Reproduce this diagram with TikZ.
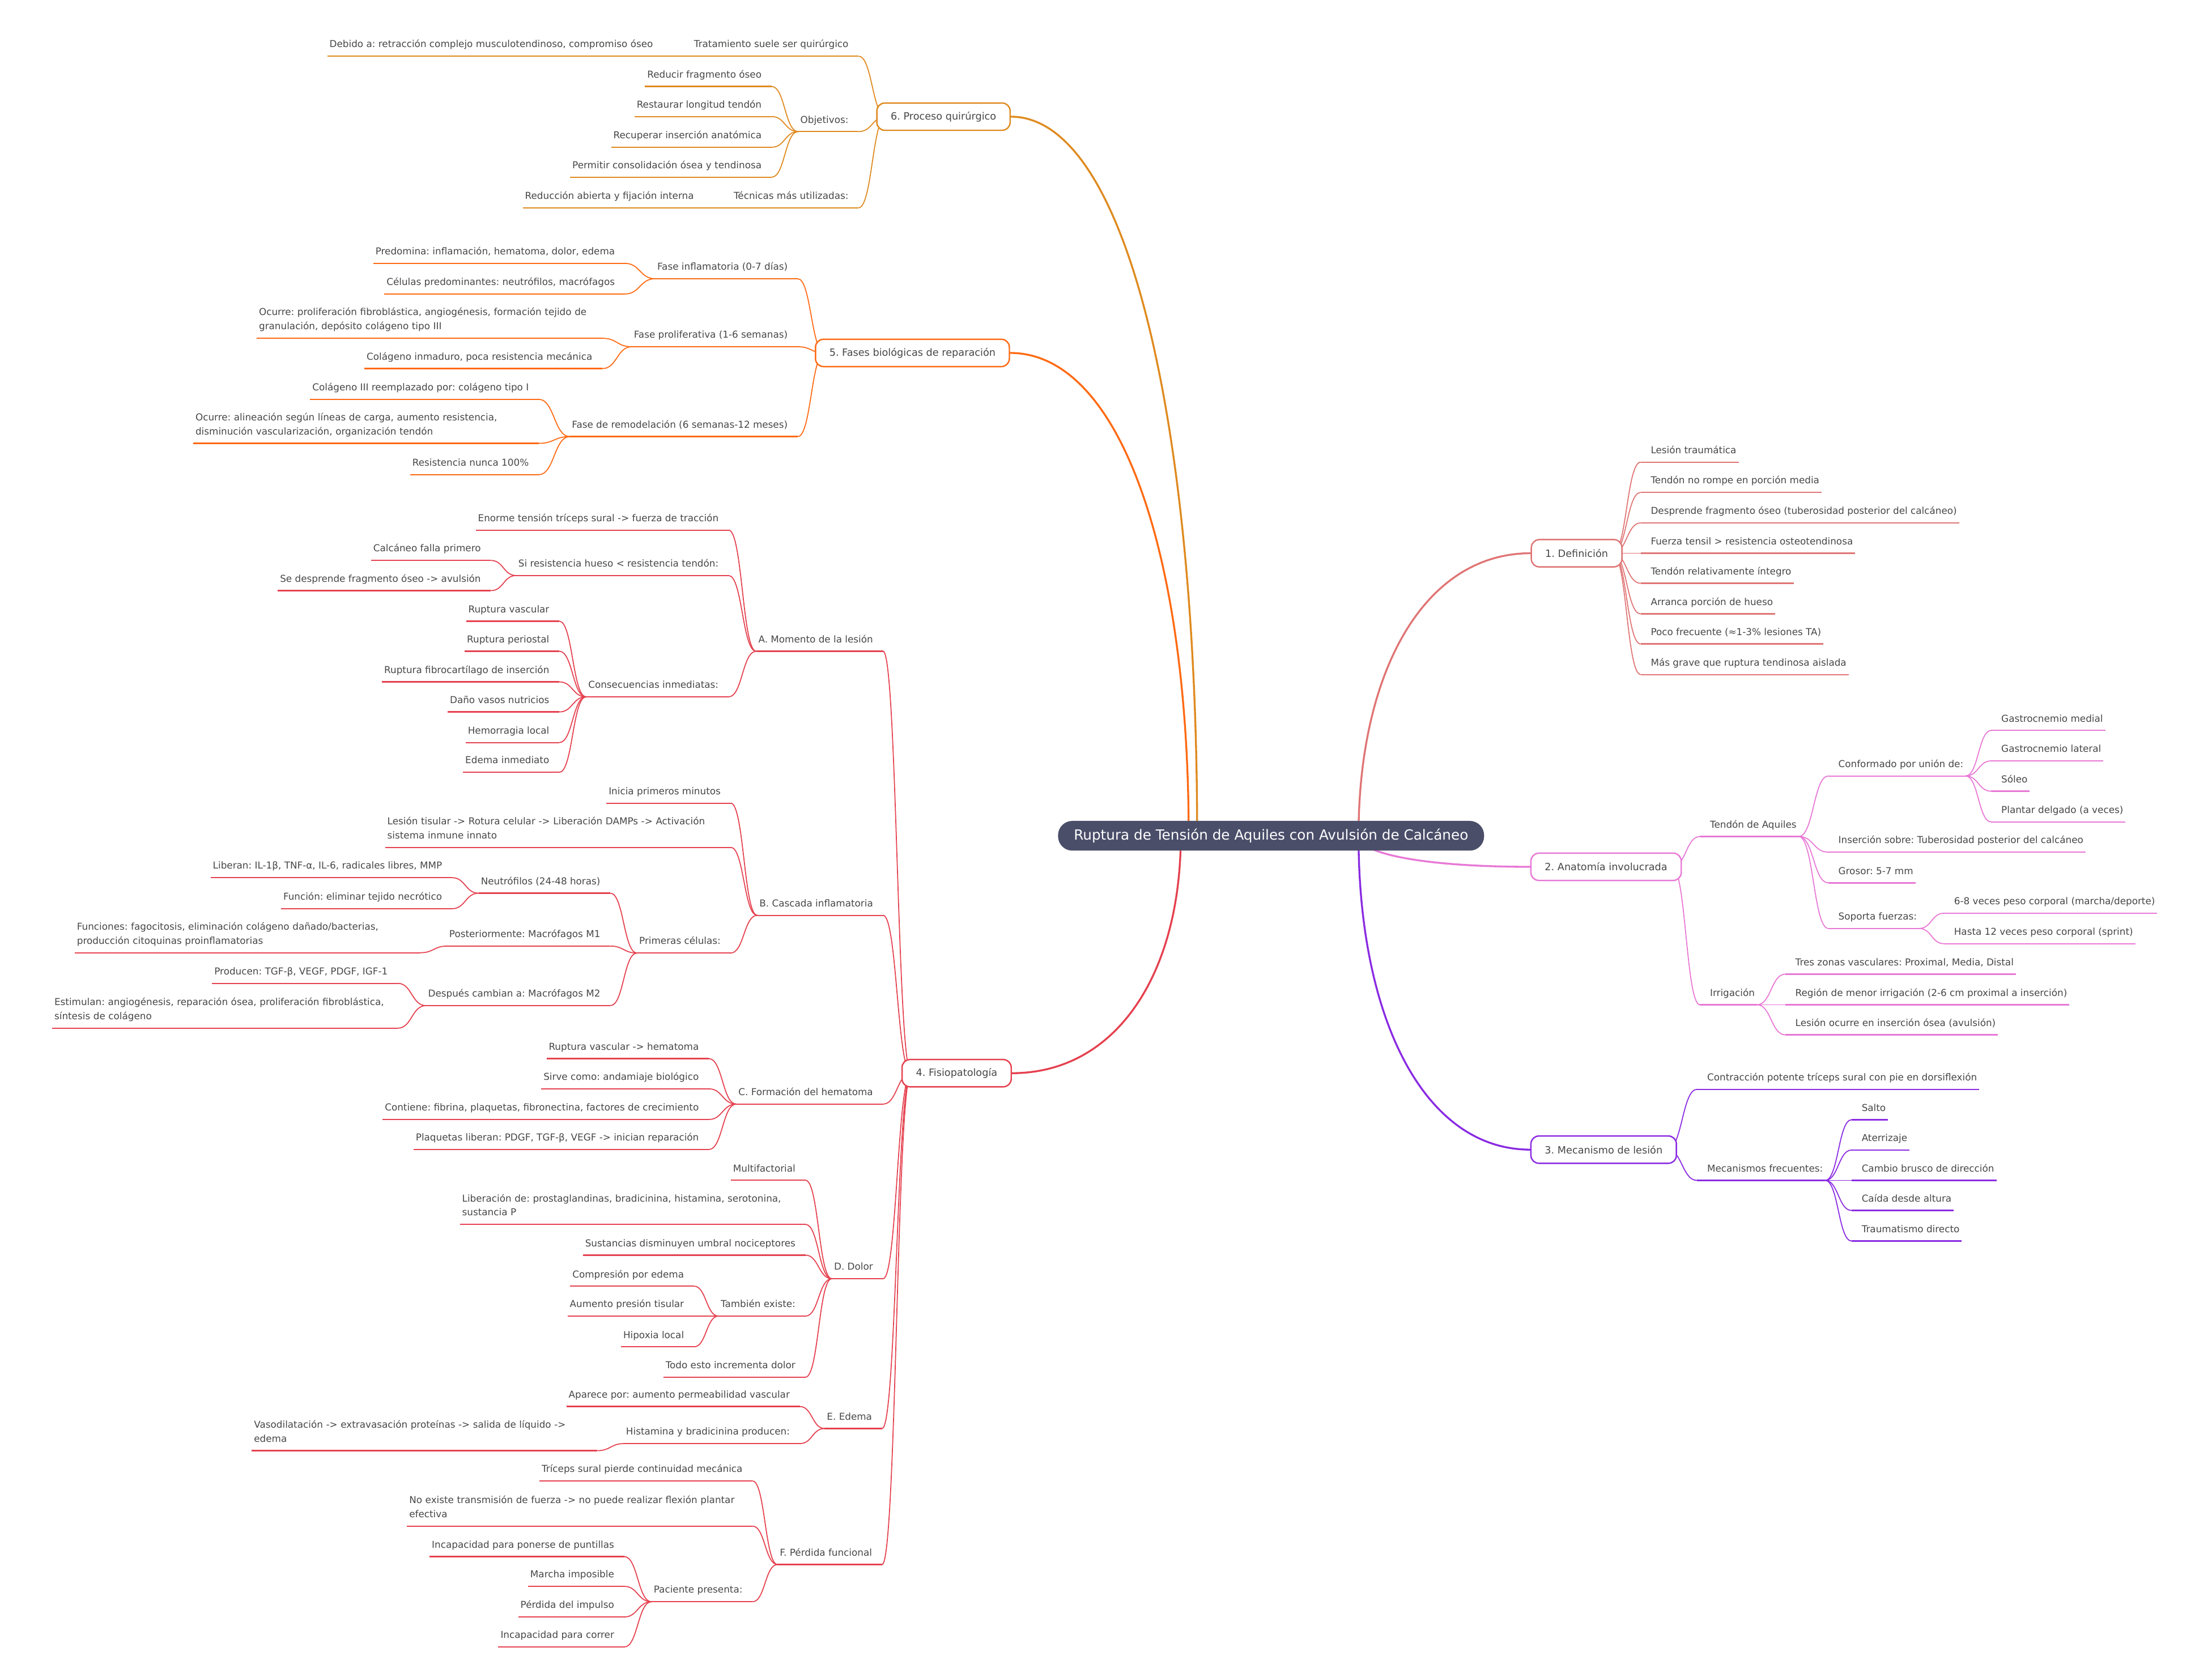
\documentclass[tikz,border=0pt]{standalone}
\usepackage{fontspec}
\setmainfont{DejaVu Sans}
\usetikzlibrary{calc,backgrounds}
\frenchspacing

\definecolor{c1}{HTML}{E07575}
\definecolor{c2}{HTML}{E878D6}
\definecolor{c3}{HTML}{8A2BE2}
\definecolor{c4}{HTML}{E5414F}
\definecolor{c5}{HTML}{FF6A13}
\definecolor{c6}{HTML}{DF8A1F}
\definecolor{rootc}{HTML}{4A4E69}
\definecolor{txt}{HTML}{474747}

\newcommand\leaffont{\fontsize{9.6}{14.2}\selectfont}
\newcommand\boxfont{\fontsize{10.1}{12}\selectfont}
\newcommand\rootfont{\fontsize{14.1}{17}\selectfont}

% S-shaped link between two anchors
\newcommand\slink[2]{\draw[slinkline] let \p1=(#1), \p2=(#2) in
  (\p1) .. controls ({(\x1+\x2)/2},\y1) and ({(\x1+\x2)/2},\y2) .. (\p2);}
% main branch out of the root
\newcommand\trunk[2]{\draw[trunkline] let \p1=(#1), \p2=(#2) in
  (\p1) .. controls (\x1,{\y1+0.58*(\y2-\y1)}) and ({\x2+0.62*(\x1-\x2)},\y2) .. (\p2);}

\begin{document}
\begin{tikzpicture}[
    x=0.05cm, y=-0.05cm,
    rootbox/.style={fill=rootc, text=white, font=\rootfont, rounded corners=14.5pt, inner xsep=16pt, minimum height=30pt},
    branchbox/.style={draw=br, fill=white, line width=1.4pt, rounded corners=8pt, font=\boxfont, text=txt, inner xsep=14pt, inner ysep=0pt, minimum height=27.5pt},
    uline/.style={draw=br, line width=1.3pt},
    leafbase/.style={font=\leaffont, text=txt, align=left, inner xsep=2.1pt, inner ysep=6pt,
        append after command={(\tikzlastnode.south west) edge[uline] (\tikzlastnode.south east)}},
    rnode/.style={leafbase, anchor=south west,
        execute at begin node={\hspace*{7.9pt}},
        execute at end node={\rule[-2.5pt]{0pt}{0pt}}},
    lnode/.style={leafbase, anchor=south east,
        execute at end node={\hspace*{7.9pt}\rule[-2.5pt]{0pt}{0pt}}},
    lwide/.style={leafbase, anchor=south east, text width=344pt,
        execute at end node={\rule[-2.5pt]{0pt}{0pt}}},
    slinkline/.style={draw=br, line width=1pt},
    trunkline/.style={draw=br, line width=1.9pt, line cap=round}
]

\begin{scope}[on background layer]
\fill[white] (0,0) rectangle (1568,1186);
\end{scope}
\useasboundingbox (0,0) rectangle (1568,1186);

% Root
\node[rootbox] (root) at (901,592.5) {Ruptura de Tensión de Aquiles con Avulsión de Calcáneo};
\coordinate (s6) at ($(root.center)+(-52.4,0)$);
\coordinate (s5) at ($(root.center)+(-58.4,0)$);
\coordinate (s4) at ($(root.center)+(-64,0)$);
\coordinate (sR) at ($(root.center)+(62,0)$);

% 1. Definicion
\begin{scope}
\colorlet{br}{c1}
\node[branchbox, anchor=west] (def) at (1085,392.2) {1. Definición};
\coordinate (defj) at ($(def.east)+(-7,0)$);
\node[rnode] (def1) at (1163,327.6) {Lesión traumática};
\node[rnode] (def2) at (1163,349.1) {Tendón no rompe en porción media};
\node[rnode] (def3) at (1163,370.7) {Desprende fragmento óseo (tuberosidad posterior del calcáneo)};
\node[rnode] (def4) at (1163,392.2) {Fuerza tensil > resistencia osteotendinosa};
\node[rnode] (def5) at (1163,413.5) {Tendón relativamente íntegro};
\node[rnode] (def6) at (1163,435.2) {Arranca porción de hueso};
\node[rnode] (def7) at (1163,456.5) {Poco frecuente (≈1-3\% lesiones TA)};
\node[rnode] (def8) at (1163,478.2) {Más grave que ruptura tendinosa aislada};
\begin{scope}[on background layer]
\trunk{sR}{def.west}
\foreach \i in {1,...,8} {\slink{defj}{def\i.south west}}
\end{scope}
\end{scope}

% 2. Anatomia
\begin{scope}
\colorlet{br}{c2}
\node[branchbox, anchor=west] (anat) at (1084.7,614.5) {2. Anatomía involucrada};
\coordinate (anatj) at ($(anat.east)+(-7,0)$);
\node[rnode] (tend) at (1205,593) {Tendón de Aquiles};
\node[rnode] (conf) at (1296,550.1) {Conformado por unión de:};
\node[rnode] (gmed) at (1411.5,517.8) {Gastrocnemio medial};
\node[rnode] (glat) at (1411.5,539.4) {Gastrocnemio lateral};
\node[rnode] (sol) at (1411.5,560.9) {Sóleo};
\node[rnode] (plan) at (1411.5,582.7) {Plantar delgado (a veces)};
\node[rnode] (ins) at (1296,604.1) {Inserción sobre: Tuberosidad posterior del calcáneo};
\node[rnode] (gros) at (1296,625.9) {Grosor: 5-7 mm};
\node[rnode] (sop) at (1296,658.2) {Soporta fuerzas:};
\node[rnode] (sop1) at (1378,647.4) {6-8 veces peso corporal (marcha/deporte)};
\node[rnode] (sop2) at (1378,669) {Hasta 12 veces peso corporal (sprint)};
\node[rnode] (irr) at (1205,712.3) {Irrigación};
\node[rnode] (irr1) at (1265.5,690.6) {Tres zonas vasculares: Proximal, Media, Distal};
\node[rnode] (irr2) at (1265.5,712.3) {Región de menor irrigación (2-6 cm proximal a inserción)};
\node[rnode] (irr3) at (1265.5,733.6) {Lesión ocurre en inserción ósea (avulsión)};
\begin{scope}[on background layer]
\trunk{sR}{anat.west}
\slink{anatj}{tend.south west}
\slink{anatj}{irr.south west}
\foreach \nm in {conf,ins,gros,sop} {\slink{tend.south east}{\nm.south west}}
\foreach \nm in {gmed,glat,sol,plan} {\slink{conf.south east}{\nm.south west}}
\slink{sop.south east}{sop1.south west}
\slink{sop.south east}{sop2.south west}
\foreach \i in {1,2,3} {\slink{irr.south east}{irr\i.south west}}
\end{scope}
\end{scope}

% 3. Mecanismo
\begin{scope}
\colorlet{br}{c3}
\node[branchbox, anchor=west] (mec) at (1084.7,815) {3. Mecanismo de lesión};
\coordinate (mecj) at ($(mec.east)+(-7,0)$);
\node[rnode] (contr) at (1203,772.2) {Contracción potente tríceps sural con pie en dorsiflexión};
\node[rnode] (mfrec) at (1203,836.8) {Mecanismos frecuentes:};
\node[rnode] (mf1) at (1312.5,793.8) {Salto};
\node[rnode] (mf2) at (1312.5,815.3) {Aterrizaje};
\node[rnode] (mf3) at (1312.5,836.8) {Cambio brusco de dirección};
\node[rnode] (mf4) at (1312.5,858.1) {Caída desde altura};
\node[rnode] (mf5) at (1312.5,879.8) {Traumatismo directo};
\begin{scope}[on background layer]
\trunk{sR}{mec.west}
\slink{mecj}{contr.south west}
\slink{mecj}{mfrec.south west}
\foreach \i in {1,...,5} {\slink{mfrec.south east}{mf\i.south west}}
\end{scope}
\end{scope}

% 4. Fisiopatologia
\begin{scope}
\colorlet{br}{c4}
\node[branchbox, anchor=east] (fisio) at (717.3,760.8) {4. Fisiopatología};
\coordinate (fisioj) at ($(fisio.west)+(7,0)$);
% A
\node[lnode] (mom) at (626,461.7) {A. Momento de la lesión};
\node[lnode] (mom1) at (516.5,375.8) {Enorme tensión tríceps sural -> fuerza de tracción};
\node[lnode] (mom2) at (516.5,408) {Si resistencia hueso < resistencia tendón:};
\node[lnode] (res1) at (348,397.3) {Calcáneo falla primero};
\node[lnode] (res2) at (348,418.7) {Se desprende fragmento óseo -> avulsión};
\node[lnode] (mom3) at (516.5,494) {Consecuencias inmediatas:};
\node[lnode] (con1) at (396.5,440.4) {Ruptura vascular};
\node[lnode] (con2) at (396.5,461.7) {Ruptura periostal};
\node[lnode] (con3) at (396.5,483.4) {Ruptura fibrocartílago de inserción};
\node[lnode] (con4) at (396.5,504.7) {Daño vasos nutricios};
\node[lnode] (con5) at (396.5,526.4) {Hemorragia local};
\node[lnode] (con6) at (396.5,547.5) {Edema inmediato};
% B
\node[lnode] (cas) at (626,648.9) {B. Cascada inflamatoria};
\node[lnode] (cas1) at (518,569.4) {Inicia primeros minutos};
\node[lwide] (cas2) at (518,600.7) {Lesión tisular -> Rotura celular -> Liberación DAMPs -> Activación\\sistema inmune innato};
\node[lnode] (cas3) at (518,675.6) {Primeras células:};
\node[lnode] (neu) at (432.7,633.2) {Neutrófilos (24-48 horas)};
\node[lnode] (neu1) at (320.5,622.2) {Liberan: IL-1β, TNF-α, IL-6, radicales libres, MMP};
\node[lnode] (neu2) at (320.5,644.2) {Función: eliminar tejido necrótico};
\node[lnode] (mac1) at (432.7,670.7) {Posteriormente: Macrófagos M1};
\node[lwide] (mac1a) at (298,675.4) {Funciones: fagocitosis, eliminación colágeno dañado/bacterias,\\producción citoquinas proinflamatorias};
\node[lnode] (mac2) at (432.7,712.9) {Después cambian a: Macrófagos M2};
\node[lnode] (mac2a) at (282,697.1) {Producen: TGF-β, VEGF, PDGF, IGF-1};
\node[lwide] (mac2b) at (282,728.9) {Estimulan: angiogénesis, reparación ósea, proliferación fibroblástica,\\síntesis de colágeno};
% C
\node[lnode] (hem) at (626,782.7) {C. Formación del hematoma};
\node[lnode] (hem1) at (502.5,750.5) {Ruptura vascular -> hematoma};
\node[lnode] (hem2) at (502.5,771.9) {Sirve como: andamiaje biológico};
\node[lnode] (hem3) at (502.5,793.6) {Contiene: fibrina, plaquetas, fibronectina, factores de crecimiento};
\node[lnode] (hem4) at (502.5,814.9) {Plaquetas liberan: PDGF, TGF-β, VEGF -> inician reparación};
% D
\node[lnode] (dol) at (626,906.5) {D. Dolor};
\node[lnode] (dol1) at (571,836.7) {Multifactorial};
\node[lwide] (dol2) at (571,868) {Liberación de: prostaglandinas, bradicinina, histamina, serotonina,\\sustancia P};
\node[lnode] (dol3) at (571,889.8) {Sustancias disminuyen umbral nociceptores};
\node[lnode] (dol4) at (571,933) {También existe:};
\node[lnode] (tam1) at (492,911.8) {Compresión por edema};
\node[lnode] (tam2) at (492,933) {Aumento presión tisular};
\node[lnode] (tam3) at (492,954.8) {Hipoxia local};
\node[lnode] (dol5) at (571,976.3) {Todo esto incrementa dolor};
% E
\node[lnode] (ede) at (625.3,1012.7) {E. Edema};
\node[lnode] (ede1) at (567,997.1) {Aparece por: aumento permeabilidad vascular};
\node[lnode] (ede2) at (567,1023.4) {Histamina y bradicinina producen:};
\node[lwide] (ede2a) at (423.5,1028.4) {Vasodilatación -> extravasación proteínas -> salida de líquido ->\\edema};
% F
\node[lnode] (per) at (625.3,1109.1) {F. Pérdida funcional};
\node[lnode] (per1) at (533.5,1049.9) {Tríceps sural pierde continuidad mecánica};
\node[lwide] (per2) at (533.5,1081.9) {No existe transmisión de fuerza -> no puede realizar flexión plantar\\efectiva};
\node[lnode] (per3) at (533.5,1135.5) {Paciente presenta:};
\node[lnode] (pac1) at (442.5,1103.5) {Incapacidad para ponerse de puntillas};
\node[lnode] (pac2) at (442.5,1124.6) {Marcha imposible};
\node[lnode] (pac3) at (442.5,1146.3) {Pérdida del impulso};
\node[lnode] (pac4) at (442.5,1167.6) {Incapacidad para correr};
\begin{scope}[on background layer]
\trunk{s4}{fisio.east}
\foreach \nm in {mom,cas,hem,dol,ede,per} {\slink{fisioj}{\nm.south east}}
\foreach \i in {1,2,3} {\slink{mom.south west}{mom\i.south east}}
\foreach \i in {1,2} {\slink{mom2.south west}{res\i.south east}}
\foreach \i in {1,...,6} {\slink{mom3.south west}{con\i.south east}}
\foreach \i in {1,2,3} {\slink{cas.south west}{cas\i.south east}}
\foreach \nm in {neu,mac1,mac2} {\slink{cas3.south west}{\nm.south east}}
\foreach \i in {1,2} {\slink{neu.south west}{neu\i.south east}}
\slink{mac1.south west}{mac1a.south east}
\slink{mac2.south west}{mac2a.south east}
\slink{mac2.south west}{mac2b.south east}
\foreach \i in {1,...,4} {\slink{hem.south west}{hem\i.south east}}
\foreach \i in {1,...,5} {\slink{dol.south west}{dol\i.south east}}
\foreach \i in {1,2,3} {\slink{dol4.south west}{tam\i.south east}}
\foreach \i in {1,2} {\slink{ede.south west}{ede\i.south east}}
\slink{ede2.south west}{ede2a.south east}
\foreach \i in {1,2,3} {\slink{per.south west}{per\i.south east}}
\foreach \i in {1,...,4} {\slink{per3.south west}{pac\i.south east}}
\end{scope}
\end{scope}

% 5. Fases biologicas
\begin{scope}
\colorlet{br}{c5}
\node[branchbox, anchor=east] (fases) at (716,250.2) {5. Fases biológicas de reparación};
\coordinate (fasesj) at ($(fases.west)+(7,0)$);
\node[lnode] (finf) at (565.5,197.6) {Fase inflamatoria (0-7 días)};
\node[lnode] (finf1) at (443,186.7) {Predomina: inflamación, hematoma, dolor, edema};
\node[lnode] (finf2) at (443,208.4) {Células predominantes: neutrófilos, macrófagos};
\node[lnode] (fpro) at (565.5,245.8) {Fase proliferativa (1-6 semanas)};
\node[lwide] (fpro1) at (427,239.8) {Ocurre: proliferación fibroblástica, angiogénesis, formación tejido de\\granulación, depósito colágeno tipo III};
\node[lnode] (fpro2) at (427,261.3) {Colágeno inmaduro, poca resistencia mecánica};
\node[lnode] (frem) at (565.5,309.5) {Fase de remodelación (6 semanas-12 meses)};
\node[lnode] (frem1) at (382,283.1) {Colágeno III reemplazado por: colágeno tipo I};
\node[lwide] (frem2) at (382,314.3) {Ocurre: alineación según líneas de carga, aumento resistencia,\\disminución vascularización, organización tendón};
\node[lnode] (frem3) at (382,336.5) {Resistencia nunca 100\%};
\begin{scope}[on background layer]
\trunk{s5}{fases.east}
\foreach \nm in {finf,fpro,frem} {\slink{fasesj}{\nm.south east}}
\foreach \i in {1,2} {\slink{finf.south west}{finf\i.south east}}
\foreach \i in {1,2} {\slink{fpro.south west}{fpro\i.south east}}
\foreach \i in {1,2,3} {\slink{frem.south west}{frem\i.south east}}
\end{scope}
\end{scope}

% 6. Proceso quirurgico
\begin{scope}
\colorlet{br}{c6}
\node[branchbox, anchor=east] (quir) at (716.5,82.7) {6. Proceso quirúrgico};
\coordinate (quirj) at ($(quir.west)+(7,0)$);
\node[lnode] (trat) at (608.6,39.8) {Tratamiento suele ser quirúrgico};
\node[lnode] (deb) at (470,39.8) {Debido a: retracción complejo musculotendinoso, compromiso óseo};
\node[lnode] (obj) at (608.6,93.3) {Objetivos:};
\node[lnode] (obj1) at (547,61.3) {Reducir fragmento óseo};
\node[lnode] (obj2) at (547,82.6) {Restaurar longitud tendón};
\node[lnode] (obj3) at (547,104.4) {Recuperar inserción anatómica};
\node[lnode] (obj4) at (547,125.6) {Permitir consolidación ósea y tendinosa};
\node[lnode] (tec) at (608.6,147.3) {Técnicas más utilizadas:};
\node[lnode] (tec1) at (499,147.3) {Reducción abierta y fijación interna};
\begin{scope}[on background layer]
\trunk{s6}{quir.east}
\foreach \nm in {trat,obj,tec} {\slink{quirj}{\nm.south east}}
\slink{trat.south west}{deb.south east}
\foreach \i in {1,...,4} {\slink{obj.south west}{obj\i.south east}}
\slink{tec.south west}{tec1.south east}
\end{scope}
\end{scope}

\end{tikzpicture}
\end{document}
